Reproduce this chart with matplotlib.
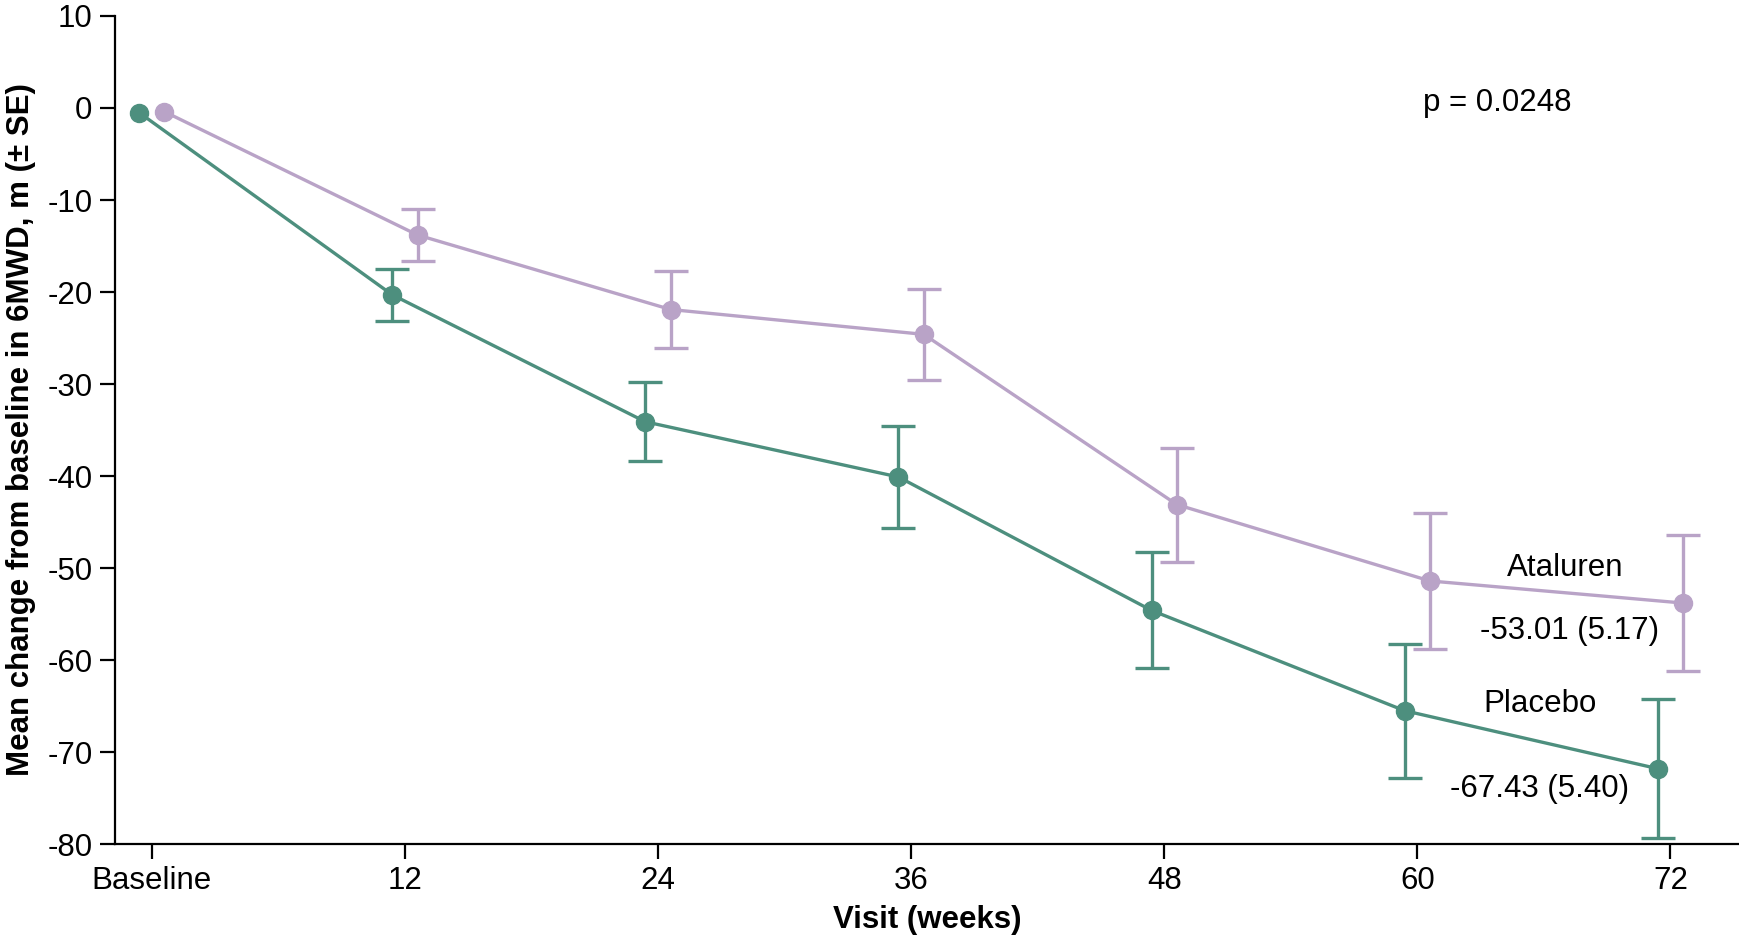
import matplotlib
matplotlib.use("Agg")
from matplotlib import pyplot as plt

plt.rcParams['font.family'] = ['Liberation Sans', 'DejaVu Sans']
plt.rcParams['axes.unicode_minus'] = False

# visit weeks and tick labels
weeks = [0, 12, 24, 36, 48, 60, 72]
week_labels = ["Baseline", "12", "24", "36", "48", "60", "72"]

# mean change from baseline and standard errors
placebo_mean = [-0.5, -20.3, -34.1, -40.1, -54.6, -65.5, -71.8]
placebo_se = [0, 2.85, 4.3, 5.5, 6.3, 7.3, 7.55]
ataluren_mean = [-0.4, -13.8, -21.9, -24.6, -43.1, -51.4, -53.8]
ataluren_se = [0, 2.8, 4.2, 4.95, 6.2, 7.35, 7.35]

placebo_color = "#4d8f7e"
ataluren_color = "#b9a3c7"
offset = 0.6  # small horizontal dodge between groups
fs = 22.5

fig = plt.figure(figsize=(17.4, 9.4), dpi=100)
ax = fig.add_axes([0.066, 0.102, 0.934, 0.881])

x_pl = [w - offset for w in weeks]
x_at = [w + offset for w in weeks]

for x, m, se, c in [(x_at, ataluren_mean, ataluren_se, ataluren_color),
                    (x_pl, placebo_mean, placebo_se, placebo_color)]:
    ax.errorbar(x[1:], m[1:], yerr=se[1:], fmt='none', ecolor=c,
                elinewidth=2.4, capsize=12, capthick=2.4, zorder=2)
    ax.plot(x, m, color=c, linewidth=2.4, marker='o', markersize=13, zorder=3)

ax.set_xlim(-1.75, 75.3)
ax.set_ylim(-80, 10)
ax.set_xticks(weeks)
ax.set_xticklabels(week_labels)
ax.set_yticks(range(-80, 11, 10))

ax.spines['top'].set_visible(False)
ax.spines['right'].set_visible(False)
ax.spines['left'].set_linewidth(1.6)
ax.spines['bottom'].set_linewidth(1.6)
ax.tick_params(axis='both', direction='out', length=11, width=1.6,
               labelsize=fs, pad=5)

ax.set_xlabel("Visit (weeks)", fontsize=fs, fontweight='bold', labelpad=6)
ax.set_ylabel("Mean change from baseline in 6MWD, m (\u00b1 SE)", fontsize=fs,
              fontweight='bold', labelpad=8)

ax.text(63.8, 0.5, "p = 0.0248", fontsize=fs, ha='center', va='center')
ax.text(67.0, -50.0, "Ataluren", fontsize=fs, ha='center', va='center')
ax.text(67.2, -56.8, "-53.01 (5.17)", fontsize=fs, ha='center', va='center')
ax.text(65.8, -64.8, "Placebo", fontsize=fs, ha='center', va='center')
ax.text(65.8, -74.0, "-67.43 (5.40)", fontsize=fs, ha='center', va='center')

fig.savefig("out.png", dpi=100)
